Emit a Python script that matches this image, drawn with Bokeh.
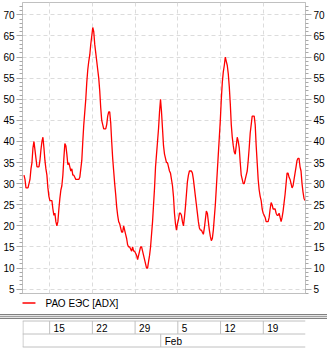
import numpy as np
import pandas as pd
from bokeh.plotting import figure
from bokeh.models import Range1d, LinearAxis, FixedTicker, Grid, Div
from bokeh.layouts import column
from bokeh.embed import file_html
from bokeh.resources import INLINE
from bokeh.core.properties import value

# ---------------- data ----------------
series_name = "РАО ЕЭС [ADX]"
trading_days = pd.bdate_range("2007-01-10", "2007-02-23")
adx = [
    32, 31, 29, 29, 29, 30, 31, 33.5, 35, 38.5,
    40, 38, 36, 34, 34, 34, 35.5, 38, 40, 41,
    38.5, 35.5, 33.5, 32, 29, 27, 26, 26, 26, 24,
    22.5, 23, 21, 20, 21, 24, 26.5, 28.5, 29.5, 32,
    36, 39.5, 39, 37, 34.5, 35, 34, 33, 33.5, 32,
    32, 31.5, 31, 31, 31, 31, 31.5, 33.5, 35.5, 40,
    44, 47, 50, 54, 57, 59, 60.5, 63, 65, 67,
    66, 63, 61, 59, 57, 55, 52, 48, 45, 44,
    43, 43, 43, 44, 46, 47, 47, 44.5, 40, 36,
    33, 30, 27.5, 24.5, 22.5, 21, 20.5, 19.5, 18.5, 18.5,
    20, 19, 18, 17, 15.5, 15, 15, 14.5, 14, 15,
    14, 14, 13.5, 13, 12, 13, 14, 15, 15, 14,
    13, 12, 11, 10, 10, 11.5, 13, 15, 18, 21,
    25, 29, 34, 37, 40, 43, 47, 50, 47, 43,
    39, 37, 36, 35, 35, 34, 33, 32.5, 31, 29.5,
    27, 23, 20.5, 19, 20.5, 21.5, 23, 23, 22.5, 21,
    20, 22, 24.5, 27.5, 30.5, 32, 33, 33, 33, 32.5,
    31, 29, 27, 25, 23, 21, 19.5, 19, 19, 18.5,
    18, 19.5, 21.5, 23.5, 23, 21, 19, 17.5, 16.5, 17,
    19, 22, 25, 29, 33, 37, 41, 45, 50, 54,
    56.5, 58, 60, 59, 58, 56, 53, 49, 44, 41,
    39, 37.5, 37, 39, 41, 40, 38.5, 35, 32, 31,
    30, 30, 31, 32, 33, 35.5, 38.5, 42, 44, 46,
    46, 46, 44, 39, 35, 31, 28.5, 27, 26, 24,
    23, 22.5, 22, 21, 21, 21, 22, 24, 25.5, 25,
    24, 24, 24, 23, 22.5, 22.5, 23, 22, 21, 22,
    23.5, 25.5, 27.5, 30, 32.5, 32.5, 31.5, 31, 30, 29,
    29.5, 31, 32.5, 34, 35.5, 36, 36, 34, 33, 30,
    28, 26.5, 26,
]
y_major = list(range(5, 71, 5))
y_minor = list(range(4, 73))

n_days = len(trading_days)
bars_per_day = len(adx) / n_days
xs = np.arange(len(adx)) / bars_per_day

week_idx = [i for i, d in enumerate(trading_days) if d.weekday() == 0 and i > 0]
week_labels = [str(trading_days[i].day) for i in week_idx]
month_idx = [i for i in range(1, n_days) if trading_days[i].month != trading_days[i - 1].month]
month_labels = [trading_days[i].strftime("%b") for i in month_idx]

# ---------------- layout constants ----------------
W = 327
FL, FW, FR = 21, 284, 22
FT, FH, FB = 2, 291, 3
MAIN_H = FT + FH + FB          # 296
LEG_H = 17                     # 296..313
SEP_H = 6                      # 313..319
DATE_H = 349 - MAIN_H - LEG_H - SEP_H   # 319..349
X0, X1 = -0.175, 32.94
PPD = FW / (X1 - X0)
FONT = "Liberation Sans"
GRID_C = "#dcdcdc"
TICK_C = "#a8a8a8"
BORDER_C = "#c0c0c0"

p = figure(width=W, height=MAIN_H, x_range=Range1d(X0, X1), y_range=Range1d(3.97, 72.93),
           x_axis_location=None, y_axis_location="left",
           output_backend="svg", toolbar_location=None,
           min_border_left=FL, min_border_right=FR, min_border_top=FT, min_border_bottom=FB)
p.outline_line_color = BORDER_C
p.background_fill_color = "white"
p.border_fill_color = "white"
p.xgrid.visible = False

right_axis = LinearAxis()
p.add_layout(right_axis, "right")
for ax in [p.yaxis[0], right_axis]:
    ax.ticker = FixedTicker(ticks=y_major, minor_ticks=y_minor)
    ax.major_tick_out = 6
    ax.major_tick_in = 0
    ax.minor_tick_out = 3
    ax.minor_tick_in = 0
    ax.major_tick_line_color = TICK_C
    ax.minor_tick_line_color = TICK_C
    ax.axis_line_color = BORDER_C
    ax.major_label_standoff = 2
    ax.major_label_text_font = FONT
    ax.major_label_text_font_size = "10px"
    ax.major_label_text_color = "black"

p.ygrid.ticker = FixedTicker(ticks=y_major)
p.ygrid.grid_line_color = GRID_C
p.ygrid.grid_line_dash = "4 3"
p.add_layout(Grid(dimension=0, ticker=FixedTicker(ticks=[float(i) for i in week_idx]),
                  grid_line_color=GRID_C, grid_line_dash="4 3"))

p.line(xs, adx, line_color="#ff0000", line_width=1.3)


def px(v):
    """page x pixel -> data x (frames of the column are aligned at FL)"""
    return X0 + (v - FL) / PPD


def sub_fig(h, y_top):
    f = figure(width=W, height=h, x_range=Range1d(X0, X1), y_range=Range1d(y_top + h, y_top),
               x_axis_location=None, y_axis_location=None,
               min_border_left=FL, min_border_right=FR, min_border_top=0, min_border_bottom=0,
               output_backend="svg", toolbar_location=None)
    f.outline_line_color = None
    f.background_fill_color = "white"
    f.border_fill_color = "white"
    f.grid.visible = False
    return f


# ---------------- legend ----------------
leg = sub_fig(LEG_H, MAIN_H)
leg.line([px(19), px(34)], [302.5, 302.5], line_color="#ff0000", line_width=1.3)
leg.text([px(44)], [302.5], text=[series_name], text_font=value(FONT), text_font_size="10px",
         text_baseline="middle", text_align="left", text_color="black")

# ---------------- separator band ----------------
sep = Div(text="", width=W, height=SEP_H, margin=0,
          styles={"background": "linear-gradient(to bottom, #ffffff 0px, #ffffff 1px, "
                                 "#808080 1px, #808080 2px, #e4e4e4 2px, #e4e4e4 3px, "
                                 "#a0a0a0 3px, #a0a0a0 4px, #e4e4e4 4px, #e4e4e4 5px, "
                                 "#808080 5px, #808080 6px)"})

# ---------------- date panel ----------------
dt = sub_fig(DATE_H, MAIN_H + LEG_H + SEP_H)
ROW1, ROW2, ROW3 = 320.5, 333.5, 346.5
dt.segment(x0=[X0] * 3, x1=[X1] * 3, y0=[ROW1, ROW2, ROW3], y1=[ROW1, ROW2, ROW3],
           line_color=BORDER_C, line_width=1)
dt.segment(x0=[px(FL + 0.5)], x1=[px(FL + 0.5)], y0=[ROW1], y1=[ROW3], line_color=BORDER_C, line_width=1)
wx = [float(i) for i in week_idx]
dt.segment(x0=wx, x1=wx, y0=[ROW1] * len(wx), y1=[ROW2] * len(wx), line_color=BORDER_C, line_width=1)
mx = [float(i) for i in month_idx]
dt.segment(x0=mx, x1=mx, y0=[ROW2] * len(mx), y1=[ROW3] * len(mx), line_color=BORDER_C, line_width=1)

off = 4 / PPD
dt.text([v + off for v in wx], [327.5] * len(wx), text=week_labels, text_font=value(FONT),
        text_font_size="10px", text_baseline="middle", text_align="left", text_color="black")
dt.text([v + off for v in mx], [340.5] * len(mx), text=month_labels, text_font=value(FONT),
        text_font_size="10px", text_baseline="middle", text_align="left", text_color="black")

layout = column(p, leg, sep, dt, spacing=0)
open("out.html", "w").write(file_html(layout, INLINE))
